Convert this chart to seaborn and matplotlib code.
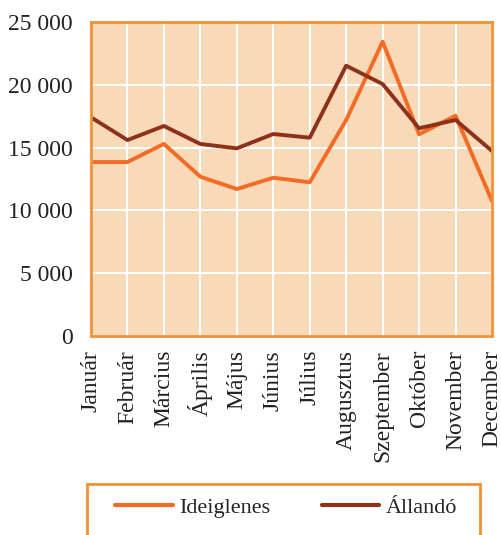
import pandas as pd
from matplotlib import pyplot as plt
from matplotlib.patches import Rectangle
from matplotlib.ticker import FuncFormatter, MultipleLocator
import seaborn as sns

months = ["Január", "Február", "Március", "Április", "Május", "Június",
          "Július", "Augusztus", "Szeptember", "Október", "November", "December"]
ideiglenes = [13850, 13850, 15290, 12680, 11700, 12600,
              12240, 17200, 23430, 16060, 17540, 10750]
allando = [17410, 15600, 16720, 15290, 14940, 16080,
           15790, 21520, 20060, 16540, 17200, 14730]
series_names = ["Ideiglenes", "Állandó"]
colors = ["#F36B24", "#8E311B"]

df = pd.DataFrame({
    "month": months * 2,
    "value": ideiglenes + allando,
    "series": [series_names[0]] * 12 + [series_names[1]] * 12,
})

sns.set_style("white")
plt.rcParams["font.family"] = ["Liberation Serif", "DejaVu Serif"]

fig = plt.figure(figsize=(5.01, 5.35), dpi=100)
ax = fig.add_axes([91 / 501, 1 - 336 / 535, 401 / 501, 314 / 535])
ax.set_facecolor("#F8D9B8")

sns.lineplot(data=df, x="month", y="value", hue="series", palette=colors,
             linewidth=2.8, sort=False, ax=ax, legend=False)

ax.set_xlim(0, 11)
ax.set_ylim(0, 25000)
ax.yaxis.set_major_locator(MultipleLocator(5000))
ax.yaxis.set_major_formatter(FuncFormatter(lambda v, p: f"{int(v):,}".replace(",", " ")))
ax.grid(True, color="white", linewidth=1.5)
ax.set_axisbelow(True)
for s in ax.spines.values():
    s.set_color("#F39233")
    s.set_linewidth(2)
ax.tick_params(axis="both", length=0, labelsize=17, colors="#222222")
ax.tick_params(axis="y", pad=13)
ax.tick_params(axis="x", rotation=90, pad=10)
ax.set_xlabel("")
ax.set_ylabel("")

# legend box, open at the bottom edge of the picture
fig.patches.append(Rectangle((87 / 501, -0.05), 393 / 501, 0.05 + 1 - 484 / 535,
                             transform=fig.transFigure, facecolor="white",
                             edgecolor="#F39233", linewidth=2, zorder=0))

handles = [plt.Line2D([], [], color=c, linewidth=3) for c in colors]
fig.legend(handles, series_names, loc="center left",
           bbox_to_anchor=(115 / 501, 1 - 508 / 535),
           ncol=2, fontsize=16, frameon=False,
           handlelength=2.6, handletextpad=0.3, borderpad=0,
           borderaxespad=0, columnspacing=2.3)

fig.savefig("out.png", dpi=100)
